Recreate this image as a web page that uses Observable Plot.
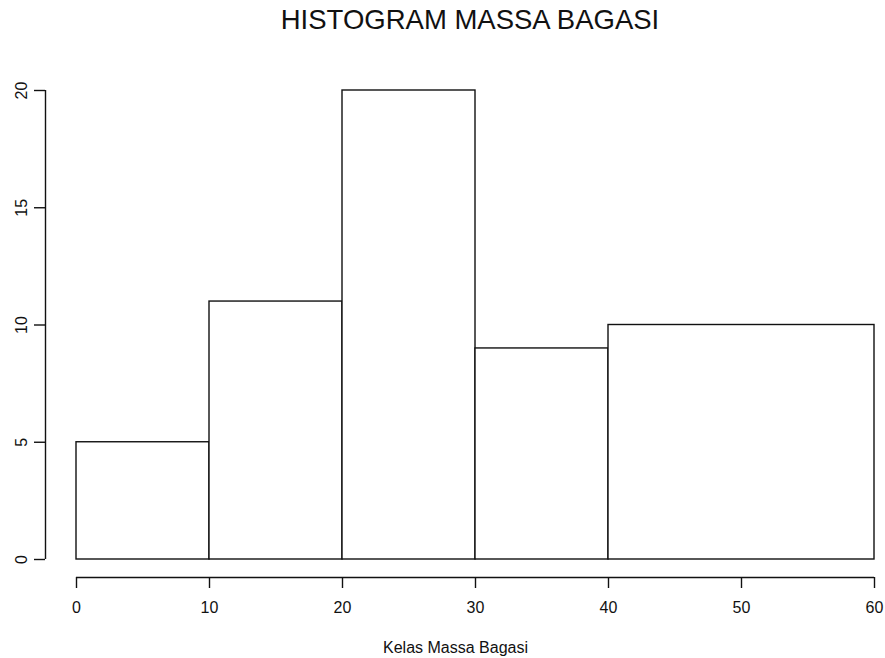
<!DOCTYPE html>
<html>
<head>
<meta charset="utf-8">
<script src="https://cdn.jsdelivr.net/npm/d3@7"></script>
<script src="https://cdn.jsdelivr.net/npm/@observablehq/plot@0.6"></script>
<style>
  html, body { margin: 0; padding: 0; background: #fff; }
  #wrap { position: relative; width: 885px; height: 658px; overflow: hidden; }
  #title { position: absolute; left: 0; top: 0; width: 940px; height: 40px; text-align: center;
           font-family: "Liberation Sans", Arial, sans-serif; font-size: 27.5px; line-height: 40px; color: #111; }
  #chart { position: absolute; left: 0; top: 40px; }
</style>
</head>
<body>
<div id="wrap">
  <div id="title">HISTOGRAM MASSA BAGASI</div>
  <div id="chart"></div>
</div>
<script>
const binStart = [0, 10, 20, 30, 40];
const binEnd = [10, 20, 30, 40, 60];
const counts = [5, 11, 20, 9, 10];
const xTicks = [0, 10, 20, 30, 40, 50, 60];
const yTicks = [0, 5, 10, 15, 20];
const xLabel = "Kelas Massa Bagasi";

const bins = binStart.map((s, i) => ({x1: s, x2: binEnd[i], count: counts[i]}));
const ink = "#111";

const chart = Plot.plot({
  width: 885,
  height: 618,
  marginTop: 50,
  marginBottom: 99,
  marginLeft: 76,
  marginRight: 11,
  x: {domain: [0, 60], axis: null},
  y: {domain: [0, 20], axis: null},
  style: {fontFamily: "'Liberation Sans', Arial, sans-serif", fontSize: "16px", color: ink, background: "#fff"},
  marks: [
    Plot.rectY(bins, {x1: "x1", x2: "x2", y: "count", fill: "white", stroke: ink, strokeWidth: 1.4}),
    Plot.ruleY([0], {x1: d3.min(xTicks), x2: d3.max(xTicks), dy: 18, stroke: ink, strokeWidth: 1.4}),
    Plot.axisX(xTicks, {anchor: "bottom", tickSize: 11, tickPadding: 13, dy: 18, stroke: ink, strokeWidth: 1.4, fontSize: 16, label: null}),
    Plot.ruleX([0], {y1: d3.min(yTicks), y2: d3.max(yTicks), dx: -31, stroke: ink, strokeWidth: 1.4}),
    Plot.axisY(yTicks, {anchor: "left", tickSize: 11, tickPadding: 8, dx: -31, tickRotate: -90, stroke: ink, strokeWidth: 1.4, fontSize: 16, label: null}),
    Plot.text([xLabel], {frameAnchor: "bottom", text: d => d, dy: 93, dx: -20, fontSize: 16, fill: ink})
  ]
});
document.getElementById("chart").appendChild(chart);
</script>
</body>
</html>
